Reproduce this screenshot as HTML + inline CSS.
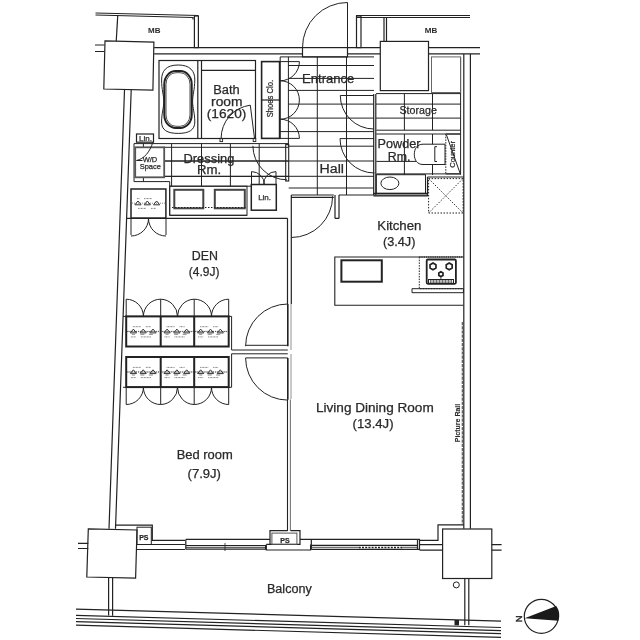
<!DOCTYPE html>
<html><head><meta charset="utf-8">
<style>
html,body{margin:0;padding:0;background:#fff;}
svg{display:block;transform:translateZ(0);}
text{font-family:"Liberation Sans",sans-serif;fill:#2a2a2a;stroke:#2a2a2a;stroke-width:0.25px;}
</style></head>
<body>
<svg width="640" height="640" viewBox="0 0 640 640">
<g fill="none" stroke="#222" stroke-width="1.2">
<!-- ===== TOP OUTER ===== -->
<path d="M95.5 13 L198.3 15.5 M95.5 15 L193 17.5 V19.5"/>
<path d="M117.8 15 L116.2 41.2"/>
<rect x="194.4" y="16" width="4" height="31.6"/>
<path d="M105 40.9 L153.9 42.1 L152.9 90.2 L103.8 89 Z"/>
<path d="M95 45 H104.5 M95 51.5 H104.5"/>
<path d="M154.2 47.6 H302.5 M154.2 53.8 H302.5"/>
<path d="M347.5 47.6 H380 M347.5 53.8 H380"/>
<path d="M429 47.6 H480 M429 53.8 H480"/>
<path d="M356 15.5 H470 M356 17.5 H470"/>
<rect x="356.5" y="16" width="4.5" height="31.6"/>
<path d="M384 17.5 V41.2 M386.5 17.5 V41.2"/>
<rect x="380.3" y="41.4" width="48.2" height="49.2"/>
<!-- entrance door -->
<rect x="302.5" y="47.6" width="45" height="9.3"/>
<path d="M347.5 47.6 V2.5 M347.5 2.5 A45 45 0 0 0 302.5 47.6" stroke-width="1"/>
<!-- right outer wall -->
<path d="M463.8 54 V528.7 M470.4 54 V528.7"/>
<!-- left outer wall -->
<path d="M124.5 90 L109 528.7 M131.2 90 L115.5 528.7"/>

<!-- ===== BATH ===== -->
<rect x="159" y="60.5" width="96.5" height="78"/>
<path d="M197.8 60.5 V138.5 M201.5 60.5 V138.5 M201.5 70.4 H255.5"/>
<!-- tub -->
<path d="M178.2 65 C190 65 195 71 194.8 80 C194.6 90 192.6 95 192.6 101.5 C192.6 108 194.8 113 194.8 122 C194.8 130 189 133.4 178.2 133.4 C167 133.4 161.6 130 161.6 122 C161.6 113 163.8 108 163.8 101.5 C163.8 95 161.6 90 161.6 80 C161.6 71 166 65 178.2 65 Z" stroke-width="1"/>
<rect x="164.3" y="71" width="27.4" height="57" rx="11.5" ry="13" stroke-width="2"/>
<rect x="166" y="72.7" width="24" height="53.6" rx="10" ry="11.5" stroke-width="0.8"/>
<!-- bath door -->
<path d="M250.3 105.2 L254.5 138.4 M250.3 105.2 A33.4 33.4 0 0 0 221.1 138.4" stroke-width="1"/><rect x="220" y="138.4" width="2.6" height="3.2" stroke-width="0.9"/><rect x="253.2" y="138.4" width="2.6" height="3.2" stroke-width="0.9"/>
<rect x="136.5" y="134" width="17" height="8.2"/>

<!-- ===== SHOES CLO ===== -->
<rect x="261.6" y="61.6" width="18" height="76.8" stroke-width="1.6"/>
<path d="M261.6 100 H279.6"/>
<g stroke-width="1">
<path d="M280.2 56.9 V139 M288.4 56.9 V146"/>
<path d="M280.2 61.6 H299.4 A19.2 19.2 0 0 1 280.2 80.8"/>
<path d="M280.2 80.8 A19.2 19.2 0 0 1 280.2 119.2"/>
<path d="M280.2 119.2 A19.2 19.2 0 0 1 299.4 138.4 H280.2"/>
</g>
<!-- entrance grid -->
<g stroke-width="1">
<path d="M280.2 56.9 H374 M288.4 65.5 H374 M288.4 78.4 H374 M288.4 90.4 H374 M288.4 104.1 H374 M288.4 118.1 H374 M280.2 131.6 H374"/>
<path d="M317.3 56.9 V195 M346.5 56.9 V195"/>
<path d="M288.4 146.2 H374 M164 161 H374 M164 176.3 H374 M288.7 188 H374"/>
</g>
<!-- storage/powder left wall -->
<path d="M373.7 94 V195 M375.8 94 V195"/>
<path d="M373.8 95.5 H340.3 A33.5 33.5 0 0 0 373.8 129" stroke-width="1"/>
<path d="M374 138.6 H340 A34.5 34.5 0 0 0 374.5 173" stroke-width="1"/>

<!-- ===== DRESSING / W/D ===== -->
<g stroke-width="1">
<path d="M134 143.6 H288.7 M164 147.3 H288.7"/>
<path d="M134 143.6 V181.6 H169.7 V215.3 H247"/>
<path d="M171.6 143.6 V186.2 M201.5 143.6 V186.2 M230.4 143.6 V186.2 M259.2 143.6 V184.5"/>
<path d="M164 161 H288 M164 176.4 H288 M169.7 186.2 H251"/>
<path d="M143.4 143.6 V147.3 M143.4 177.3 V181.6"/>
</g>
<rect x="135.2" y="147.3" width="29" height="30" stroke="#555" stroke-width="1.8"/>
<path d="M152.8 142.2 C150 152 144 159 136.5 160.5 M136.5 160.5 H142.5" stroke-width="1"/>
<!-- vanity -->
<rect x="169.7" y="186.2" width="77.3" height="29.1" stroke-width="1"/>
<rect x="174.3" y="189.8" width="29" height="18.5" stroke="#444" stroke-width="2"/>
<rect x="214.8" y="189.8" width="30" height="18.5" stroke="#444" stroke-width="2"/>
<path d="M172 207.5 H247" stroke-dasharray="1.5 1.5" stroke-width="1"/>
<!-- laundry shelf -->
<rect x="131" y="189" width="34.9" height="29.1" stroke-width="1.5"/>
<path d="M131 218.5 V235 M166 218.5 V235 M148.5 218.5 A17.5 17.5 0 0 1 131 236 M148.5 218.5 A17.5 17.5 0 0 0 166 236" stroke-width="1"/>
<!-- DEN top wall -->
<path d="M126 218.3 H287.5" stroke-width="1.2"/>
<!-- dressing right wall & door -->
<rect x="285.7" y="144.6" width="3" height="36.4" stroke-width="1.1"/>
<path d="M252.9 145.8 A34 34 0 0 0 286.9 179.8" stroke-width="1"/>
<!-- hall lin closet -->
<rect x="251.3" y="184.5" width="25" height="25.7" stroke-width="1.5"/>
<path d="M251.5 184.5 V171.6 A12.9 12.9 0 0 1 264.4 184.5 M276 184.5 V171.6 A12.3 12.3 0 0 0 263.7 184.5" stroke-width="1"/>
<!-- LDR wall -->
<path d="M287.5 218.3 V304 M291.3 195 V304"/>
<path d="M291.3 195 H333.8 M291.3 197.3 H333.8 M335 195 V218.4 M339 195 V218.4 M335 218.4 H339 M339 195 H428"/>
<path d="M332.6 196.2 A41.3 41.3 0 0 1 291.3 237.5" stroke-width="1"/>
<!-- powder room -->
<g stroke-width="1">
<path d="M376.3 130.2 H460.6 M376.3 134 H460.6 M460.6 57.5 V174.7"/>
<path d="M404.4 93.8 V130.2 M432.5 93.8 V130.2 M376 93.6 H461 M376 104.1 H461 M376 118.1 H461"/>
<rect x="431.5" y="56.9" width="29.1" height="35.6" stroke="#666"/>
<path d="M404.4 134 V175 M432.5 134 V175 M376.3 161.4 H446 M376.3 173.9 H460.6"/>
<path d="M445.8 134 V173.9" stroke-dasharray="1.5 1.2"/><path d="M445.8 134 H460.6 M445.8 173.9 H460.6"/>
<path d="M446.5 135 L460 173"/>
<path d="M445 144.2 H423 C417 144.2 414.3 149 414.3 154.3 C414.3 159.8 417 164.5 423 164.5 H445 Z" fill="#fff"/>
<path d="M434.8 146.7 V161.5 M434.8 146.7 H437 M434.8 161.5 H437"/>
<rect x="376.3" y="174.7" width="49.2" height="18.7"/>
<ellipse cx="389.9" cy="183.3" rx="9" ry="6.3"/>
</g>
<path d="M373.4 193.4 H427.8 M373.4 195.8 H427.8 M427.5 177 V195.8 M427.5 177 H463.8"/>
<rect x="428.6" y="178.6" width="34.5" height="34.4" stroke-dasharray="1.5 1.5" stroke-width="1"/>
<path d="M428.6 178.6 L463 213 M463 178.6 L428.6 213" stroke-dasharray="1.5 1.5" stroke-width="0.9"/>

<!-- ===== TEXT ===== -->
<g stroke="none">
<text x="213.21" y="93.8" font-size="12.3" textLength="26.4" lengthAdjust="spacingAndGlyphs">Bath</text>
<text x="211.08" y="105.8" font-size="12.3" textLength="31.48" lengthAdjust="spacingAndGlyphs">room</text>
<text x="206.79" y="117.5" font-size="12.3" textLength="39.52" lengthAdjust="spacingAndGlyphs">(1620)</text>
<text x="302.14" y="82.5" font-size="12.3" textLength="52.19" lengthAdjust="spacingAndGlyphs">Entrance</text>
<text x="399.5" y="114.4" font-size="10" textLength="37.33" lengthAdjust="spacingAndGlyphs">Storage</text>
<text x="377.57" y="148" font-size="12.3" textLength="42.92" lengthAdjust="spacingAndGlyphs">Powder</text>
<text x="387.75" y="160.6" font-size="12.3" textLength="22.6" lengthAdjust="spacingAndGlyphs">Rm.</text>
<text x="183.55" y="162.8" font-size="12.3" textLength="50.75" lengthAdjust="spacingAndGlyphs">Dressing</text>
<text x="196.92" y="174" font-size="12.3" textLength="24.26" lengthAdjust="spacingAndGlyphs">Rm.</text>
<text x="319.55" y="173" font-size="12.3" textLength="24.37" lengthAdjust="spacingAndGlyphs">Hall</text>
<text x="377.32" y="230.3" font-size="12.3" textLength="44.11" lengthAdjust="spacingAndGlyphs">Kitchen</text>
<text x="382.97" y="245.9" font-size="12.3" textLength="32.49" lengthAdjust="spacingAndGlyphs">(3.4J)</text>
<text x="191.89" y="260.3" font-size="12.3" textLength="26.19" lengthAdjust="spacingAndGlyphs">DEN</text>
<text x="188.83" y="276.3" font-size="12.3" textLength="30.6" lengthAdjust="spacingAndGlyphs">(4.9J)</text>
<text x="176.65" y="459.1" font-size="12.3" textLength="56.1" lengthAdjust="spacingAndGlyphs">Bed room</text>
<text x="187.54" y="478.3" font-size="12.3" textLength="33.43" lengthAdjust="spacingAndGlyphs">(7.9J)</text>
<text x="316.0" y="412.3" font-size="12.3" textLength="117.71" lengthAdjust="spacingAndGlyphs">Living Dining Room</text>
<text x="352.63" y="427.6" font-size="12.3" textLength="40.97" lengthAdjust="spacingAndGlyphs">(13.4J)</text>
<text x="266.98" y="592.8" font-size="12.3" textLength="44.77" lengthAdjust="spacingAndGlyphs">Balcony</text>
<text x="154.3" y="32.6" font-size="8" font-weight="bold" text-anchor="middle" style="stroke-width:0">MB</text>
<text x="431" y="32.6" font-size="8" font-weight="bold" text-anchor="middle" style="stroke-width:0">MB</text>
<text x="145.5" y="140.8" font-size="8" text-anchor="middle">Lin.</text>
<text x="264.6" y="200.3" font-size="8" text-anchor="middle">Lin.</text>
<text x="150" y="161.9" font-size="7.5" text-anchor="middle">W/D</text>
<text x="150.3" y="168.6" font-size="7.5" text-anchor="middle">Space</text>
<text x="273.5" y="98.6" font-size="8.2" text-anchor="middle" textLength="37.5" lengthAdjust="spacingAndGlyphs" transform="rotate(-90 273.5 98.6)">Shoes Clo.</text>
<text x="455.5" y="154.4" font-size="7.5" text-anchor="middle" transform="rotate(-90 455.5 154.4)">Counter</text>
<text x="460.3" y="423" font-size="7.2" font-weight="bold" text-anchor="middle" textLength="38.5" lengthAdjust="spacingAndGlyphs" transform="rotate(-90 460.3 423)" style="stroke-width:0.1px">Picture Rail</text>
<text x="143.8" y="540" font-size="7" font-weight="bold" text-anchor="middle">PS</text>
<text x="285" y="542.5" font-size="7" font-weight="bold" text-anchor="middle">PS</text>
</g>

<!-- ===== DEN CLOSETS ===== -->
<g stroke-width="1">
<path d="M123 316.4 H231.6 V350 M123 387.3 H231.6 V353.8"/>
<path d="M231.6 350 H287.8 M231.6 353.8 H287.8"/>
<path d="M126.2 316.4 V299.2 A17.2 17.2 0 0 1 143.4 316.4 M160.7 316.4 V299.2 A17.2 17.2 0 0 0 143.4 316.4 M160.7 299.2 A17.2 17.2 0 0 1 177.5 316.4 M194.2 316.4 V299.2 A17.2 17.2 0 0 0 177.5 316.4 M194.2 299.2 A17.2 17.2 0 0 1 211.5 316.4 M228.7 316.4 V299.2 A17.2 17.2 0 0 0 211.5 316.4"/>
<path d="M126.2 387.3 V404.5 A17.2 17.2 0 0 0 143.4 387.3 M160.7 387.3 V404.5 A17.2 17.2 0 0 1 143.4 387.3 M160.7 404.5 A17.2 17.2 0 0 0 177.5 387.3 M194.2 387.3 V404.5 A17.2 17.2 0 0 1 177.5 387.3 M194.2 404.5 A17.2 17.2 0 0 0 211.5 387.3 M228.7 387.3 V404.5 A17.2 17.2 0 0 1 211.5 387.3"/>
</g>
<rect x="126.2" y="316.4" width="102.5" height="30.1" stroke-width="2"/>
<path d="M160.7 316.4 V346.5 M194.2 316.4 V346.5 M160.7 357 V387.1 M194.2 357 V387.1" stroke-width="2"/>
<rect x="126.2" y="357" width="102.5" height="30.1" stroke-width="2"/>
<path d="M127 331.6 H228 M127 372 H228" stroke-dasharray="1.2 1" stroke-width="0.7"/>
<path d="M132.9 326.7 h8 M145.9 326.7 h5 M130.9 336.9 h5 M140.9 336.9 h10" stroke="#666" stroke-width="0.9" stroke-dasharray="0.9 0.6"/>
<path d="M127.9 331.3 H158.9" stroke="#555" stroke-width="0.7" stroke-dasharray="1 1"/>
<path d="M130.4 332.7 L133.4 329.1 L136.4 332.7 M130.2 332.9 H136.6" stroke="#333" stroke-width="1"/>
<path d="M140.2 332.7 L143.2 329.1 L146.2 332.7 M140.0 332.9 H146.4" stroke="#333" stroke-width="1"/>
<path d="M150.0 332.7 L153.0 329.1 L156.0 332.7 M149.8 332.9 H156.2" stroke="#333" stroke-width="1"/>
<path d="M131.9 334.3 h3 M140.4 334.3 h4 M148.9 334.3 h4" stroke="#666" stroke-width="0.8"/>
<path d="M166.6 326.7 h8 M179.6 326.7 h5 M164.6 336.9 h5 M174.6 336.9 h10" stroke="#666" stroke-width="0.9" stroke-dasharray="0.9 0.6"/>
<path d="M161.6 331.3 H192.6" stroke="#555" stroke-width="0.7" stroke-dasharray="1 1"/>
<path d="M164.1 332.7 L167.1 329.1 L170.1 332.7 M163.9 332.9 H170.3" stroke="#333" stroke-width="1"/>
<path d="M173.9 332.7 L176.9 329.1 L179.9 332.7 M173.7 332.9 H180.1" stroke="#333" stroke-width="1"/>
<path d="M183.7 332.7 L186.7 329.1 L189.7 332.7 M183.5 332.9 H189.9" stroke="#333" stroke-width="1"/>
<path d="M165.6 334.3 h3 M174.1 334.3 h4 M182.6 334.3 h4" stroke="#666" stroke-width="0.8"/>
<path d="M200.2 326.7 h8 M213.2 326.7 h5 M198.2 336.9 h5 M208.2 336.9 h10" stroke="#666" stroke-width="0.9" stroke-dasharray="0.9 0.6"/>
<path d="M195.2 331.3 H226.2" stroke="#555" stroke-width="0.7" stroke-dasharray="1 1"/>
<path d="M197.7 332.7 L200.7 329.1 L203.7 332.7 M197.5 332.9 H203.9" stroke="#333" stroke-width="1"/>
<path d="M207.5 332.7 L210.5 329.1 L213.5 332.7 M207.3 332.9 H213.7" stroke="#333" stroke-width="1"/>
<path d="M217.3 332.7 L220.3 329.1 L223.3 332.7 M217.1 332.9 H223.5" stroke="#333" stroke-width="1"/>
<path d="M199.2 334.3 h3 M207.7 334.3 h4 M216.2 334.3 h4" stroke="#666" stroke-width="0.8"/>
<path d="M132.9 367.4 h8 M145.9 367.4 h5 M130.9 377.6 h5 M140.9 377.6 h10" stroke="#666" stroke-width="0.9" stroke-dasharray="0.9 0.6"/>
<path d="M127.9 372.0 H158.9" stroke="#555" stroke-width="0.7" stroke-dasharray="1 1"/>
<path d="M130.4 373.4 L133.4 369.8 L136.4 373.4 M130.2 373.6 H136.6" stroke="#333" stroke-width="1"/>
<path d="M140.2 373.4 L143.2 369.8 L146.2 373.4 M140.0 373.6 H146.4" stroke="#333" stroke-width="1"/>
<path d="M150.0 373.4 L153.0 369.8 L156.0 373.4 M149.8 373.6 H156.2" stroke="#333" stroke-width="1"/>
<path d="M131.9 375.0 h3 M140.4 375.0 h4 M148.9 375.0 h4" stroke="#666" stroke-width="0.8"/>
<path d="M166.6 367.4 h8 M179.6 367.4 h5 M164.6 377.6 h5 M174.6 377.6 h10" stroke="#666" stroke-width="0.9" stroke-dasharray="0.9 0.6"/>
<path d="M161.6 372.0 H192.6" stroke="#555" stroke-width="0.7" stroke-dasharray="1 1"/>
<path d="M164.1 373.4 L167.1 369.8 L170.1 373.4 M163.9 373.6 H170.3" stroke="#333" stroke-width="1"/>
<path d="M173.9 373.4 L176.9 369.8 L179.9 373.4 M173.7 373.6 H180.1" stroke="#333" stroke-width="1"/>
<path d="M183.7 373.4 L186.7 369.8 L189.7 373.4 M183.5 373.6 H189.9" stroke="#333" stroke-width="1"/>
<path d="M165.6 375.0 h3 M174.1 375.0 h4 M182.6 375.0 h4" stroke="#666" stroke-width="0.8"/>
<path d="M200.2 367.4 h8 M213.2 367.4 h5 M198.2 377.6 h5 M208.2 377.6 h10" stroke="#666" stroke-width="0.9" stroke-dasharray="0.9 0.6"/>
<path d="M195.2 372.0 H226.2" stroke="#555" stroke-width="0.7" stroke-dasharray="1 1"/>
<path d="M197.7 373.4 L200.7 369.8 L203.7 373.4 M197.5 373.6 H203.9" stroke="#333" stroke-width="1"/>
<path d="M207.5 373.4 L210.5 369.8 L213.5 373.4 M207.3 373.6 H213.7" stroke="#333" stroke-width="1"/>
<path d="M217.3 373.4 L220.3 369.8 L223.3 373.4 M217.1 373.6 H223.5" stroke="#333" stroke-width="1"/>
<path d="M199.2 375.0 h3 M207.7 375.0 h4 M216.2 375.0 h4" stroke="#666" stroke-width="0.8"/>
<!-- laundry shelf marks -->
<path d="M137.0 198.6 h3 M144.0 198.6 h8 M138.0 208.4 h8 M151.0 208.4 h5" stroke="#666" stroke-width="0.9" stroke-dasharray="0.9 0.6"/>
<path d="M132.0 203.2 H165.0" stroke="#555" stroke-width="0.7" stroke-dasharray="1 1"/>
<path d="M135.0 204.6 L138.0 201.0 L141.0 204.6 M134.8 204.8 H141.2" stroke="#333" stroke-width="1"/>
<path d="M144.3 204.6 L147.3 201.0 L150.3 204.6 M144.1 204.8 H150.5" stroke="#333" stroke-width="1"/>
<path d="M153.6 204.6 L156.6 201.0 L159.6 204.6 M153.4 204.8 H159.8" stroke="#333" stroke-width="1"/>
<!-- ===== DEN/LDR doors ===== -->
<path d="M287.8 304 V346.2 M287.8 357.9 V399.8" stroke-width="1.6"/>
<path d="M287.8 304 A42.2 42.2 0 0 0 245.6 346.2 M245.6 345.3 H287.8 M245.6 357.9 H287.8 M245.6 357.9 A42.2 42.2 0 0 0 287.8 400.1" stroke-width="1"/>
<path d="M291 304 V350 M291 354 V399" stroke-width="0.8" stroke="#777"/>
<path d="M287.5 399.5 V531" stroke-width="1.1"/><path d="M290.4 399.5 V531" stroke-width="1.1" stroke="#777"/>

<!-- ===== KITCHEN ===== -->
<path d="M463.4 257 H334.8 V305.2 H463.4" stroke-width="1.1"/>
<rect x="341.4" y="260.3" width="40.4" height="21.4" stroke-width="2"/>
<path d="M419.3 257 V288.7 H463.4" stroke-dasharray="1.5 1.2" stroke-width="1"/>
<rect x="426.7" y="259.5" width="29.2" height="24.3" rx="1.2" stroke-width="1.8"/>
<path d="M412 288.7 H463.4 V292.7 H412 Z" stroke-width="1"/>
<g stroke-width="1.7">
<polygon points="435.94,268.10 433.00,269.80 430.06,268.10 430.06,264.70 433.00,263.00 435.94,264.70"/>
<polygon points="452.14,268.10 449.20,269.80 446.26,268.10 446.26,264.70 449.20,263.00 452.14,264.70"/>
<polygon points="442.98,275.40 440.90,276.60 438.82,275.40 438.82,273.00 440.90,271.80 442.98,273.00"/>
</g>
<path d="M440.9 276.5 V279.5" stroke-width="0.8"/>
<rect x="428.5" y="279.5" width="25" height="3.8" stroke-width="1"/>
<path d="M430.5 279.8 V283 M432 279.8 V283 M433.5 279.8 V283 M435 279.8 V283 M436.5 279.8 V283 M438 279.8 V283 M439.5 279.8 V283 M441 279.8 V283 M442.5 279.8 V283 M444 279.8 V283 M445.5 279.8 V283 M447 279.8 V283 M448.5 279.8 V283 M450 279.8 V283 M451.5 279.8 V283" stroke-width="0.7" stroke="#333"/>
<path d="M419.3 257 H463.4" stroke-dasharray="1.2 1" stroke-width="1.6" stroke="#333"/>
<!-- picture rail -->
<path d="M462.4 322 V524" stroke-dasharray="3.2 1" stroke-width="1.4" stroke="#666"/>

<!-- ===== BOTTOM ===== -->
<path d="M78 543.4 H88.3 M78 548.5 H88.3"/>
<path d="M88.3 528.8 L137 530 L135.6 578.2 L86.8 577 Z"/>
<path d="M115.8 525.2 H152.3 V540.4 H185 M137 544.5 H185 M137 549.5 H185"/>
<rect x="137" y="527.2" width="14.3" height="17.3" stroke-width="1"/>
<path d="M108.6 578 V615.5 M112.6 578 V615.8"/>
<!-- window 1 -->
<path d="M185.8 539.4 V549.4 M185.8 539.4 H270 M185.8 545.5 H266.3 M185.8 549.2 H266.3 M265.6 545.5 V549.2"/><path d="M185.8 547.3 H266.3" stroke-width="0.9"/>
<path d="M225 543 V551" stroke-width="0.8"/>
<!-- PS middle -->
<path d="M266.3 544.4 V550 H310.6 V544.4 M270 544.4 V530.6 H287.6 M290.6 530.6 H300 V544.4 H266.3 M300 539.4 H417.5"/>
<rect x="271.9" y="533.1" width="25" height="11.3" stroke-width="1" stroke="#555"/>
<!-- window 2 -->
<path d="M311.3 539.4 V549.4 M311.3 545.3 H417.5 M311.3 549.3 H417.5 M417.5 539.4 V549.4 H419.5 V539.4 H417.5"/>
<path d="M358.8 547.4 H402.5" stroke-dasharray="2 1.2" stroke-width="1.5"/>
<path d="M311.3 547.3 H358.8 M402.5 547.3 H417.5" stroke-width="0.8"/>
<!-- right bottom -->
<path d="M463.8 524.8 H438 V540.4 H419.5 M419.5 544.7 H442.6 M419.5 550.2 H442.6"/>
<rect x="442.6" y="529" width="49.2" height="49.5"/>
<path d="M491.8 544.7 H501.6 M491.8 550.2 H501.6"/>
<path d="M464.8 578.5 V625.3 M468.8 578.5 V625.3"/>
<circle cx="456.3" cy="584.9" r="3" stroke-width="1"/>
<rect x="454.5" y="620" width="4.5" height="5.3" fill="#222" stroke="none"/>
<!-- balcony rail -->
<g stroke-width="1.2">
<path d="M76 609.1 L501 621.2 M76 615.4 L501 627.5 M76 618.5 L501 630.6 M76 621.6 L501 633.7 M76 625.2 L501 637.3"/>
</g>
<!-- compass -->
<circle cx="541.3" cy="616.3" r="17" stroke-width="1.2"/>
<path d="M524.6 618.3 L556.3 606 A17.2 17.2 0 0 1 558.4 620.8 Z" fill="#1a1a1a" stroke="none"/>
</g>
<text x="519.3" y="622.3" font-size="9.5" text-anchor="middle" transform="rotate(90 519.3 619)" style="fill:#222;stroke-width:0.4px">N</text>
</svg>
</body></html>
